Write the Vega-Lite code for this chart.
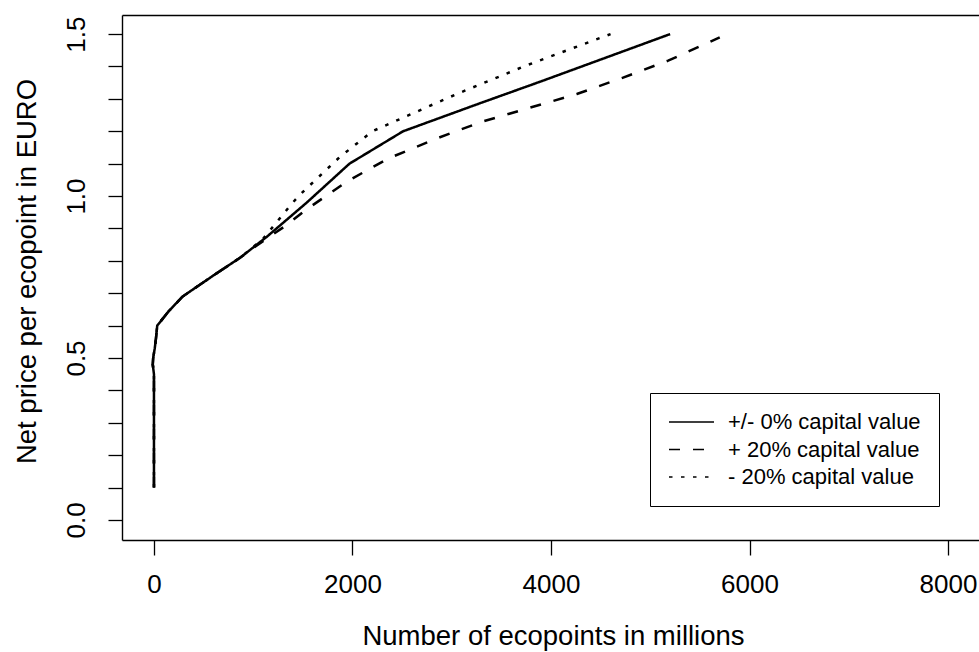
{
  "$schema": "https://vega.github.io/schema/vega-lite/v6.json",
  "width": 857,
  "height": 525,
  "autosize": {"type": "none"},
  "padding": {"left": 122, "top": 15, "right": 0, "bottom": 112},
  "background": "white",
  "config": {
    "view": {"stroke": null},
    "font": "Liberation Sans",
    "axis": {
      "grid": false,
      "domainColor": "black",
      "domainWidth": 1.4,
      "tickColor": "black",
      "tickWidth": 1.3,
      "labelColor": "black",
      "titleColor": "black",
      "labelFont": "Liberation Sans",
      "titleFont": "Liberation Sans",
      "labelFontWeight": "normal",
      "titleFontWeight": "normal",
      "labelOverlap": false,
      "labelFlush": false,
      "labelBound": false
    }
  },
  "datasets": {
    "curves": [
      {"scenario": "+/- 0% capital value", "i": 1, "ecopoints": 0, "price": 0.10},
      {"scenario": "+/- 0% capital value", "i": 2, "ecopoints": 0, "price": 0.45},
      {"scenario": "+/- 0% capital value", "i": 3, "ecopoints": -12, "price": 0.48},
      {"scenario": "+/- 0% capital value", "i": 4, "ecopoints": -8, "price": 0.50},
      {"scenario": "+/- 0% capital value", "i": 5, "ecopoints": 8, "price": 0.53},
      {"scenario": "+/- 0% capital value", "i": 6, "ecopoints": 20, "price": 0.56},
      {"scenario": "+/- 0% capital value", "i": 7, "ecopoints": 33, "price": 0.60},
      {"scenario": "+/- 0% capital value", "i": 8, "ecopoints": 150, "price": 0.645},
      {"scenario": "+/- 0% capital value", "i": 9, "ecopoints": 290, "price": 0.69},
      {"scenario": "+/- 0% capital value", "i": 10, "ecopoints": 600, "price": 0.755},
      {"scenario": "+/- 0% capital value", "i": 11, "ecopoints": 870, "price": 0.81},
      {"scenario": "+/- 0% capital value", "i": 12, "ecopoints": 1140, "price": 0.875},
      {"scenario": "+/- 0% capital value", "i": 13, "ecopoints": 1540, "price": 0.98},
      {"scenario": "+/- 0% capital value", "i": 14, "ecopoints": 1970, "price": 1.10},
      {"scenario": "+/- 0% capital value", "i": 15, "ecopoints": 2510, "price": 1.20},
      {"scenario": "+/- 0% capital value", "i": 16, "ecopoints": 3280, "price": 1.286},
      {"scenario": "+/- 0% capital value", "i": 17, "ecopoints": 3890, "price": 1.353},
      {"scenario": "+/- 0% capital value", "i": 18, "ecopoints": 5200, "price": 1.50},

      {"scenario": "+ 20% capital value", "i": 1, "ecopoints": 0, "price": 0.10},
      {"scenario": "+ 20% capital value", "i": 2, "ecopoints": 0, "price": 0.45},
      {"scenario": "+ 20% capital value", "i": 3, "ecopoints": -12, "price": 0.48},
      {"scenario": "+ 20% capital value", "i": 4, "ecopoints": -8, "price": 0.50},
      {"scenario": "+ 20% capital value", "i": 5, "ecopoints": 8, "price": 0.53},
      {"scenario": "+ 20% capital value", "i": 6, "ecopoints": 20, "price": 0.56},
      {"scenario": "+ 20% capital value", "i": 7, "ecopoints": 33, "price": 0.60},
      {"scenario": "+ 20% capital value", "i": 8, "ecopoints": 150, "price": 0.645},
      {"scenario": "+ 20% capital value", "i": 9, "ecopoints": 290, "price": 0.69},
      {"scenario": "+ 20% capital value", "i": 10, "ecopoints": 600, "price": 0.755},
      {"scenario": "+ 20% capital value", "i": 11, "ecopoints": 870, "price": 0.81},
      {"scenario": "+ 20% capital value", "i": 12, "ecopoints": 1000, "price": 0.84},
      {"scenario": "+ 20% capital value", "i": 13, "ecopoints": 1320, "price": 0.907},
      {"scenario": "+ 20% capital value", "i": 14, "ecopoints": 1520, "price": 0.955},
      {"scenario": "+ 20% capital value", "i": 15, "ecopoints": 1940, "price": 1.044},
      {"scenario": "+ 20% capital value", "i": 16, "ecopoints": 2360, "price": 1.116},
      {"scenario": "+ 20% capital value", "i": 17, "ecopoints": 2850, "price": 1.178},
      {"scenario": "+ 20% capital value", "i": 18, "ecopoints": 3300, "price": 1.229},
      {"scenario": "+ 20% capital value", "i": 19, "ecopoints": 3790, "price": 1.273},
      {"scenario": "+ 20% capital value", "i": 20, "ecopoints": 4260, "price": 1.315},
      {"scenario": "+ 20% capital value", "i": 21, "ecopoints": 4720, "price": 1.365},
      {"scenario": "+ 20% capital value", "i": 22, "ecopoints": 5180, "price": 1.418},
      {"scenario": "+ 20% capital value", "i": 23, "ecopoints": 5700, "price": 1.49},

      {"scenario": "\u00a0- 20% capital value", "i": 1, "ecopoints": 0, "price": 0.10},
      {"scenario": "\u00a0- 20% capital value", "i": 2, "ecopoints": 0, "price": 0.45},
      {"scenario": "\u00a0- 20% capital value", "i": 3, "ecopoints": -12, "price": 0.48},
      {"scenario": "\u00a0- 20% capital value", "i": 4, "ecopoints": -8, "price": 0.50},
      {"scenario": "\u00a0- 20% capital value", "i": 5, "ecopoints": 8, "price": 0.53},
      {"scenario": "\u00a0- 20% capital value", "i": 6, "ecopoints": 20, "price": 0.56},
      {"scenario": "\u00a0- 20% capital value", "i": 7, "ecopoints": 33, "price": 0.60},
      {"scenario": "\u00a0- 20% capital value", "i": 8, "ecopoints": 150, "price": 0.645},
      {"scenario": "\u00a0- 20% capital value", "i": 9, "ecopoints": 290, "price": 0.69},
      {"scenario": "\u00a0- 20% capital value", "i": 10, "ecopoints": 600, "price": 0.755},
      {"scenario": "\u00a0- 20% capital value", "i": 11, "ecopoints": 870, "price": 0.81},
      {"scenario": "\u00a0- 20% capital value", "i": 12, "ecopoints": 1100, "price": 0.868},
      {"scenario": "\u00a0- 20% capital value", "i": 13, "ecopoints": 1390, "price": 0.977},
      {"scenario": "\u00a0- 20% capital value", "i": 14, "ecopoints": 1490, "price": 1.01},
      {"scenario": "\u00a0- 20% capital value", "i": 15, "ecopoints": 1870, "price": 1.12},
      {"scenario": "\u00a0- 20% capital value", "i": 16, "ecopoints": 2200, "price": 1.20},
      {"scenario": "\u00a0- 20% capital value", "i": 17, "ecopoints": 3050, "price": 1.315},
      {"scenario": "\u00a0- 20% capital value", "i": 18, "ecopoints": 3750, "price": 1.403},
      {"scenario": "\u00a0- 20% capital value", "i": 19, "ecopoints": 4600, "price": 1.50}
    ]
  },
  "resolve": {"scale": {"x": "shared", "y": "shared"}, "axis": {"x": "independent"}},
  "layer": [
    {
      "data": {"name": "curves"},
      "mark": {"type": "line", "color": "black", "strokeWidth": 2.5, "strokeCap": "butt", "strokeJoin": "round"},
      "encoding": {
        "x": {
          "field": "ecopoints",
          "type": "quantitative",
          "scale": {"domain": [-322, 8312], "nice": false, "zero": false},
          "axis": {
            "orient": "bottom",
            "values": [0, 2000, 4000, 6000, 8000],
            "format": "d",
            "tickSize": 15,
            "labelFontSize": 26,
            "labelBaseline": "alphabetic",
            "labelPadding": 37,
            "title": "Number of ecopoints in millions",
            "titleFontSize": 27.5,
            "titleBaseline": "alphabetic",
            "titleAlign": "center",
            "titleX": 431,
            "titleY": 104
          }
        },
        "y": {
          "field": "price",
          "type": "quantitative",
          "scale": {"domain": [-0.062, 1.559], "nice": false, "zero": false},
          "axis": {
            "values": [0, 0.1, 0.2, 0.3, 0.4, 0.5, 0.6, 0.7, 0.8, 0.9, 1.0, 1.1, 1.2, 1.3, 1.4, 1.5],
            "labelExpr": "datum.value % 0.5 === 0 ? format(datum.value, '.1f') : ''",
            "tickSize": 14,
            "labelFontSize": 26,
            "labelAngle": -90,
            "labelAlign": "center",
            "labelBaseline": "alphabetic",
            "labelPadding": 24,
            "title": "Net price per ecopoint in EURO",
            "titleFontSize": 27.5,
            "titleAngle": -90,
            "titleBaseline": "alphabetic",
            "titleAlign": "center",
            "titleX": -87,
            "titleY": 256
          }
        },
        "order": {"field": "i", "type": "quantitative"},
        "strokeDash": {
          "field": "scenario",
          "type": "nominal",
          "scale": {
            "domain": ["+/- 0% capital value", "+ 20% capital value", "\u00a0- 20% capital value"],
            "range": [[1, 0], [11, 13], [3.5, 8.5]]
          },
          "legend": {
            "orient": "none",
            "legendX": 528,
            "legendY": 378,
            "title": null,
            "padding": 18,
            "strokeColor": "black",
            "fillColor": "white",
            "labelFont": "Liberation Sans",
            "labelFontSize": 22,
            "labelColor": "black",
            "labelOffset": 13,
            "labelLimit": 400,
            "clipHeight": 22,
            "rowPadding": 5.5,
            "symbolType": "stroke",
            "symbolSize": 2025,
            "symbolStrokeWidth": 1.3,
            "symbolStrokeColor": "black",
            "encode": {
              "symbols": {
                "update": {
                  "strokeDash": {"signal": "datum.index === 0 ? [1, 0] : datum.index === 1 ? [6, 5] : [1.8, 4]"}
                }
              }
            }
          }
        }
      }
    },
    {
      "mark": {"type": "rule", "color": "black", "strokeWidth": 1.3},
      "encoding": {
        "y": {
          "datum": 0,
          "type": "quantitative",
          "axis": {
            "values": [0, 0.1, 0.2, 0.3, 0.4, 0.5, 0.6, 0.7, 0.8, 0.9, 1.0, 1.1, 1.2, 1.3, 1.4, 1.5],
            "labelExpr": "datum.value % 0.5 === 0 ? format(datum.value, '.1f') : ''",
            "tickSize": 14,
            "labelFontSize": 26,
            "labelAngle": -90,
            "labelAlign": "center",
            "labelBaseline": "alphabetic",
            "labelPadding": 24,
            "title": "Net price per ecopoint in EURO",
            "titleFontSize": 27.5,
            "titleAngle": -90,
            "titleBaseline": "alphabetic",
            "titleAlign": "center",
            "titleX": -87,
            "titleY": 256
          }
        }
      }
    },
    {
      "mark": {"type": "rule", "opacity": 0},
      "encoding": {
        "x": {
          "datum": 0,
          "type": "quantitative",
          "axis": {"orient": "top", "ticks": false, "labels": false, "title": null, "domainColor": "black", "domainWidth": 1.4}
        }
      }
    }
  ]
}
